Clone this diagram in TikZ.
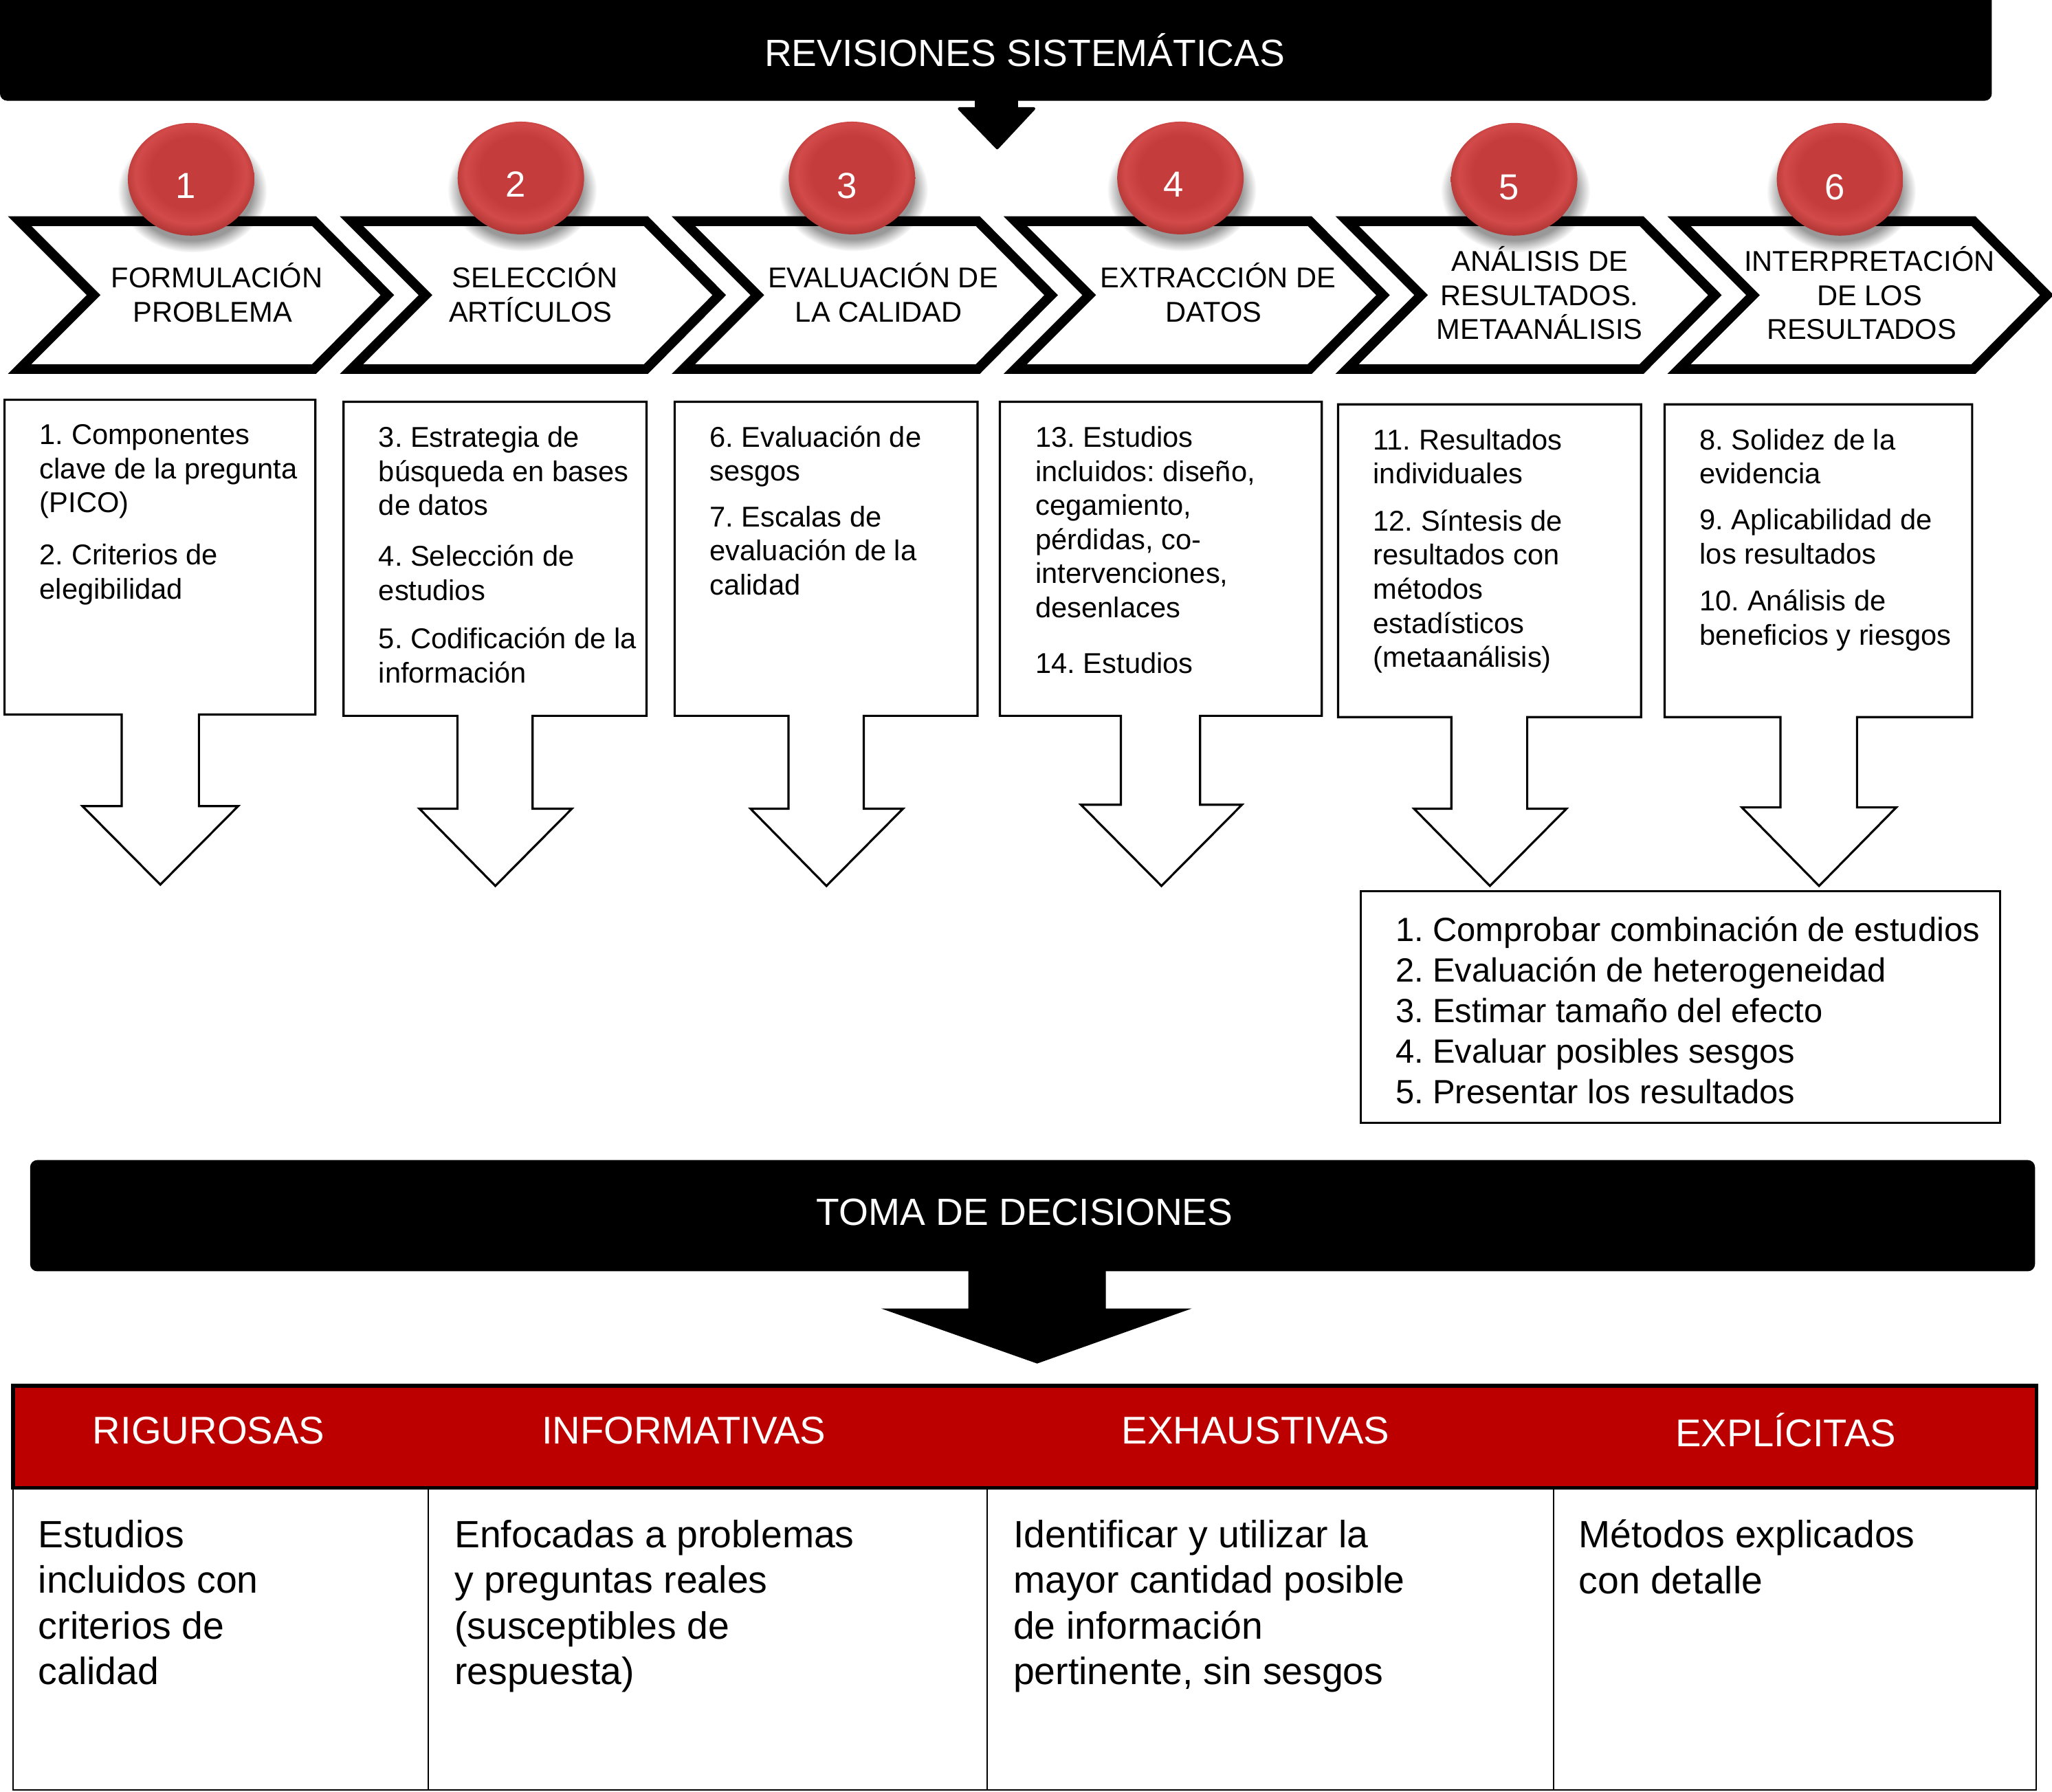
\documentclass[tikz,border=0pt]{standalone}
\usepackage{fontspec}
\setmainfont{Liberation Sans}
\usetikzlibrary{shapes.geometric,fadings}
\frenchspacing
\definecolor{barred}{HTML}{BC0000}
\definecolor{ballmid}{HTML}{C43D3C}
\definecolor{balllight}{HTML}{D24A49}
\definecolor{ballrim}{HTML}{A83230}
\pgfdeclareradialshading{redball}{\pgfpoint{0bp}{4bp}}{color(0bp)=(ballmid); color(16bp)=(ballmid); color(22bp)=(balllight); color(28bp)=(ballrim); color(50bp)=(ballrim)}
\tikzset{
  bar/.style={fill=black,rounded corners=3pt},
  bartext/.style={text=white,font=\fontsize{15.7}{18.8}\selectfont},
  chevron/.style={draw=black,line width=4pt,miter limit=10},
  chevtext/.style={align=center,inner sep=0pt,font=\fontsize{11.85}{14.1}\selectfont},
  callout/.style={draw=black,line width=0.9pt,fill=white,line join=miter},
  boxtext/.style={align=left,anchor=north west,inner sep=0pt,font=\fontsize{11.85}{14.1}\selectfont},
  ball/.style={ellipse,minimum width=1.84cm,minimum height=1.64cm,inner sep=0pt,shading=redball},
  balltext/.style={text=white,inner sep=0pt,font=\fontsize{15}{18}\selectfont},
  ballshadow/.style={fill=black,fill opacity=0.4,path fading=circle with fuzzy edge 20 percent},
  headtext/.style={text=white,inner sep=0pt,font=\fontsize{16}{19}\selectfont},
  bodytext/.style={align=left,anchor=north west,inner sep=0pt,font=\fontsize{15.75}{18.95}\selectfont},
  listtext/.style={align=left,anchor=north west,inner sep=0pt,font=\fontsize{13.9}{16.8}\selectfont},
  rule/.style={draw=black,line width=0.6pt}
}
\begin{document}
\begin{tikzpicture}[x=0.019037cm,y=0.019037cm]
  \useasboundingbox (0,0) rectangle (1568,-1369);
  % top bar
  \fill [bar] (0,10) rectangle (1522,-77);
  \node [bartext] (revisiones) at (783,-38.5) {REVISIONES SISTEMÁTICAS};
  \fill (745,-75) rectangle (778,-83);
  \fill [line join=round,draw=black,line width=1.2pt] (733,-83) -- (790,-83) -- (762,-113) -- cycle;
  % chevrons
  \draw [chevron] (15,-169) -- (240,-169) -- (296,-225.5) -- (240,-282) -- (15,-282) -- (71.5,-225.5) -- cycle;
  \draw [chevron] (268.6,-169) -- (493.6,-169) -- (549.6,-225.5) -- (493.6,-282) -- (268.6,-282) -- (325.1,-225.5) -- cycle;
  \draw [chevron] (522.2,-169) -- (747.2,-169) -- (803.2,-225.5) -- (747.2,-282) -- (522.2,-282) -- (578.7,-225.5) -- cycle;
  \draw [chevron] (775.8,-169) -- (1000.8,-169) -- (1056.8,-225.5) -- (1000.8,-282) -- (775.8,-282) -- (832.3,-225.5) -- cycle;
  \draw [chevron] (1029.4,-169) -- (1254.4,-169) -- (1310.4,-225.5) -- (1254.4,-282) -- (1029.4,-282) -- (1085.9,-225.5) -- cycle;
  \draw [chevron] (1283,-169) -- (1508,-169) -- (1564,-225.5) -- (1508,-282) -- (1283,-282) -- (1339.5,-225.5) -- cycle;
  \node [chevtext] (formulacion) at (162.5,-223.5) {\hspace*{3.5pt}FORMULACIÓN\\PROBLEMA};
  \node [chevtext] (seleccion) at (405.5,-223.5) {\hspace*{3.5pt}SELECCIÓN\\ARTÍCULOS};
  \node [chevtext] (evaluacion) at (671.5,-223.5) {\hspace*{3.5pt}EVALUACIÓN DE\\LA CALIDAD};
  \node [chevtext] (extraccion) at (927.5,-223.5) {\hspace*{3.5pt}EXTRACCIÓN DE\\DATOS};
  \node [chevtext] (analisis) at (1176.5,-224) {ANÁLISIS DE\\RESULTADOS.\\METAANÁLISIS};
  \node [chevtext] (interpretacion) at (1428.5,-224) {INTERPRETACIÓN\\DE LOS\\RESULTADOS\hspace*{6.5pt}};
  % balls
  \fill [ballshadow] (147,-146) ellipse (57 and 47);
  \fill [ballshadow] (399,-145) ellipse (57 and 47);
  \fill [ballshadow] (652,-145) ellipse (57 and 47);
  \fill [ballshadow] (903,-145) ellipse (57 and 47);
  \fill [ballshadow] (1158,-146) ellipse (57 and 47);
  \fill [ballshadow] (1407,-146) ellipse (57 and 47);
  \node [ball] (balla) at (146,-137) {};
  \node [ball] (ballb) at (398,-136) {};
  \node [ball] (ballc) at (651,-136) {};
  \node [ball] (balld) at (902,-136) {};
  \node [ball] (balle) at (1157,-137) {};
  \node [ball] (ballf) at (1406,-137) {};
  \node [balltext] (numa) at (142,-142) {1};
  \node [balltext] (numb) at (394,-141) {2};
  \node [balltext] (numc) at (647,-142) {3};
  \node [balltext] (numd) at (897,-141) {4};
  \node [balltext] (nume) at (1153,-143) {5};
  \node [balltext] (numf) at (1402,-143) {6};
  % boxes with arrows
  \draw [callout] (3.5,-305.5) -- (241,-305.5) -- (241,-546) -- (152,-546) -- (152,-616) -- (182,-616) -- (122.5,-676) -- (63,-616) -- (93,-616) -- (93,-546) -- (3.5,-546) -- cycle;
  \draw [callout] (262.5,-307) -- (494,-307) -- (494,-547) -- (407,-547) -- (407,-618) -- (437,-618) -- (378.5,-677) -- (320.5,-618) -- (349.5,-618) -- (349.5,-547) -- (262.5,-547) -- cycle;
  \draw [callout] (515.5,-307) -- (747,-307) -- (747,-547) -- (660,-547) -- (660,-618) -- (690,-618) -- (631.5,-677) -- (573.5,-618) -- (602.5,-618) -- (602.5,-547) -- (515.5,-547) -- cycle;
  \draw [callout] (764,-307) -- (1010,-307) -- (1010,-547) -- (917,-547) -- (917,-615) -- (949,-615) -- (887.5,-677) -- (826,-615) -- (856.5,-615) -- (856.5,-547) -- (764,-547) -- cycle;
  \draw [callout] (1022.5,-309) -- (1254,-309) -- (1254,-548) -- (1167,-548) -- (1167,-618) -- (1197,-618) -- (1138.5,-677) -- (1080.5,-618) -- (1109,-618) -- (1109,-548) -- (1022.5,-548) -- cycle;
  \draw [callout] (1272,-309) -- (1507,-309) -- (1507,-548) -- (1419,-548) -- (1419,-617) -- (1449,-617) -- (1390,-677) -- (1331,-617) -- (1360.5,-617) -- (1360.5,-548) -- (1272,-548) -- cycle;
  \node [boxtext] (texta) at (30,-324) {1. Componentes\\clave de la pregunta\\(PICO)\\[7.5pt]2. Criterios de\\elegibilidad};
  \node [boxtext] (textb) at (289,-325.5) {3. Estrategia de\\búsqueda en bases\\de datos\\[7pt]4. Selección de\\estudios\\[6pt]5. Codificación de la\\información};
  \node [boxtext] (textc) at (542,-325) {6. Evaluación de\\sesgos\\[4.9pt]7. Escalas de\\evaluación de la\\calidad};
  \node [boxtext] (textd) at (791,-325.5) {13. Estudios\\incluidos: diseño,\\cegamiento,\\pérdidas, co-\\intervenciones,\\desenlaces\\[9pt]14. Estudios};
  \node [boxtext] (texte) at (1049,-327.5) {11. Resultados\\individuales\\[5.4pt]12. Síntesis de\\resultados con\\métodos\\estadísticos\\(metaanálisis)};
  \node [boxtext] (textf) at (1298.5,-327.5) {8. Solidez de la\\evidencia\\[4.9pt]9. Aplicabilidad de\\los resultados\\[5.4pt]10. Análisis de\\beneficios y riesgos};
  % list box
  \draw [callout] (1040,-681) rectangle (1528.5,-858);
  \node [listtext] (lista) at (1066,-700) {1. Comprobar combinación de estudios\\2. Evaluación de heterogeneidad\\3. Estimar tamaño del efecto\\4. Evaluar posibles sesgos\\5. Presentar los resultados};
  % decisions bar
  \fill [bar] (23,-886.5) rectangle (1555,-971.5);
  \node [bartext] (toma) at (783,-926.5) {TOMA DE DECISIONES};
  \fill (740,-970) -- (845,-970) -- (845,-1000) -- (910.5,-1000) -- (792.5,-1042) -- (673.5,-1000) -- (740,-1000) -- cycle;
  % table
  \draw [rule] (10,-1137) -- (10,-1368) -- (1556,-1368) -- (1556,-1137);
  \draw [rule] (327.4,-1137) -- (327.4,-1368);
  \draw [rule] (754.5,-1137) -- (754.5,-1368);
  \draw [rule] (1187,-1137) -- (1187,-1368);
  \draw [fill=barred,draw=black,line width=1.5pt] (10,-1059) rectangle (1556,-1137);
  \node [headtext] (rigurosas) at (159.5,-1093) {RIGUROSAS};
  \node [headtext] (informativas) at (522.5,-1093) {INFORMATIVAS};
  \node [headtext] (exhaustivas) at (959.5,-1093) {EXHAUSTIVAS};
  \node [headtext] (explicitas) at (1364.5,-1093) {EXPLÍCITAS};
  \node [bodytext] (cola) at (29,-1161) {Estudios\\incluidos con\\criterios de\\calidad};
  \node [bodytext] (colb) at (347,-1161) {Enfocadas a problemas\\y preguntas reales\\(susceptibles de\\respuesta)};
  \node [bodytext] (colc) at (774,-1161) {Identificar y utilizar la\\mayor cantidad posible\\de información\\pertinente, sin sesgos};
  \node [bodytext] (cold) at (1206,-1161) {Métodos explicados\\con detalle};
\end{tikzpicture}
\end{document}
